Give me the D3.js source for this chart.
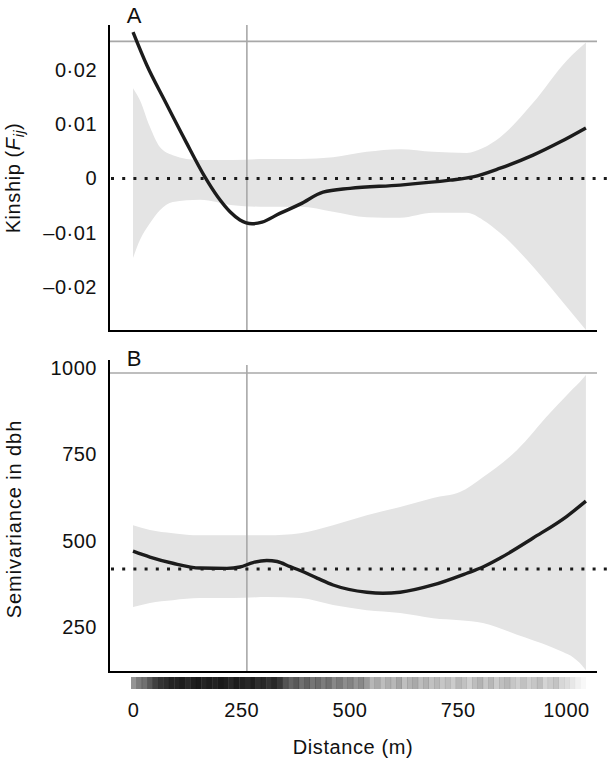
<!DOCTYPE html>
<html>
<head>
<meta charset="utf-8">
<script src="https://cdn.jsdelivr.net/npm/d3@7"></script>
<style>
  html, body { margin: 0; padding: 0; background: #fff; }
  svg { display: block; font-family: "Liberation Sans", Arial, Helvetica, sans-serif; }
</style>
</head>
<body>
<svg id="chart" width="609" height="761"></svg>
<script>
// ---------- DATA ----------
// Panel A: kinship vs distance
const aMeanDist = [0, 32, 74, 120, 166, 196, 224, 247, 275, 298, 339, 370, 386, 439, 501, 617, 732, 785, 848, 924, 986, 1046];
const aMean     = [0.0269, 0.0208, 0.0142, 0.0071, 0.0003, -0.0034, -0.0061, -0.0076, -0.0083, -0.0080, -0.0064, -0.0053, -0.0047, -0.0025, -0.0018, -0.0012, -0.0003, 0.0003, 0.0019, 0.0043, 0.0067, 0.0093];
const aBandDist = [0, 16, 39, 62, 92, 155, 231, 309, 386, 462, 540, 617, 693, 771, 808, 848, 924, 1002, 1046];
const aUpper    = [0.0166, 0.0144, 0.0095, 0.0058, 0.0043, 0.0034, 0.0034, 0.0036, 0.0036, 0.0039, 0.0049, 0.0054, 0.0049, 0.0047, 0.0056, 0.0076, 0.0139, 0.0217, 0.0250];
const aLower    = [-0.0146, -0.0113, -0.0082, -0.0058, -0.0043, -0.0039, -0.0049, -0.0052, -0.0052, -0.0061, -0.0071, -0.0072, -0.0063, -0.0063, -0.0076, -0.0100, -0.0162, -0.0236, -0.0278];
const aNull = 0;          // dotted reference
const aObsTop = 0.0252;   // grey horizontal line
const aTicks = [-0.02, -0.01, 0, 0.01, 0.02];
const aTickLabels = ["\u20130\u00b702", "\u20130\u00b701", "0", "0\u00b701", "0\u00b702"];

// Panel B: semivariance in dbh vs distance
const bMeanDist = [0, 39, 92, 155, 217, 247, 277, 309, 333, 363, 386, 425, 462, 540, 577, 617, 693, 771, 808, 848, 924, 1002, 1046];
const bMean     = [470, 453, 435, 421, 420, 424, 437, 443, 440, 425, 414, 392, 372, 351, 348, 351, 372, 406, 424, 450, 508, 571, 615];
const bBandDist = [0, 39, 92, 155, 231, 309, 386, 462, 540, 617, 693, 755, 808, 887, 963, 993, 1016, 1032, 1046];
const bUpper    = [545, 531, 522, 516, 516, 516, 522, 545, 574, 598, 624, 641, 684, 763, 870, 910, 940, 960, 980];
const bLower    = [308, 320, 328, 334, 334, 337, 334, 314, 299, 291, 276, 270, 262, 228, 194, 178, 163, 146, 125];
const bNull = 418;
const bObsTop = 986;
const bTicks = [250, 500, 750, 1000];
const bTickLabels = ["250", "500", "750", "1000"];

// shared
const vlineDist = 263;
const xTicks = [0, 250, 500, 750, 1000];
const xTickLabels = ["0", "250", "500", "750", "1000"];
// distance strip: relative pair density in consecutive 12.5 m bins starting at 0 m
const stripBinWidth = 12.5;
const stripDensity = [
  0.45, 0.55, 0.60, 0.70,
  0.80, 0.85, 0.88, 0.92,
  0.92, 0.95, 0.90, 0.94, 0.96, 0.92, 0.95, 0.93, 0.96, 0.94, 0.90, 0.95, 0.93, 0.90, 0.94, 0.88, 0.90, 0.86, 0.90, 0.84,
  0.72, 0.65, 0.70, 0.60, 0.66, 0.58, 0.62, 0.55, 0.60, 0.50, 0.56, 0.48,
  0.52, 0.45, 0.50, 0.42,
  0.30, 0.36, 0.28, 0.34, 0.30, 0.38, 0.27, 0.32, 0.36, 0.28, 0.33, 0.26,
  0.30, 0.24, 0.28, 0.22, 0.30, 0.26, 0.20, 0.28, 0.32, 0.24, 0.30, 0.22, 0.27, 0.30, 0.24, 0.20,
  0.26, 0.20, 0.24, 0.28, 0.18, 0.22, 0.25, 0.17,
  0.14, 0.10, 0.06, 0.03
];

// ---------- LAYOUT ----------
const svg = d3.select("#chart");
const axisX = 109, axisRight = 597;
const x = d3.scaleLinear().domain([0, 1000]).range([133, 566]);

const panels = [
  { label: "A", top: 25, bottom: 331, vTop: 25, labelY: 23, domain: [-0.0280, 0.0282],
    meanDist: aMeanDist, mean: aMean, bandDist: aBandDist, upper: aUpper, lower: aLower,
    nullV: aNull, obsTop: aObsTop, ticks: aTicks, tickLabels: aTickLabels },
  { label: "B", top: 360, bottom: 672, vTop: 365, labelY: 366, domain: [120, 1023.6],
    meanDist: bMeanDist, mean: bMean, bandDist: bBandDist, upper: bUpper, lower: bLower,
    nullV: bNull, obsTop: bObsTop, ticks: bTicks, tickLabels: bTickLabels }
];

const tickFont = 20, tickSpacing = 0.5;

panels.forEach(p => {
  const y = d3.scaleLinear().domain(p.domain).range([p.bottom, p.top]);
  const g = svg.append("g");

  // band
  const band = p.bandDist.map((d, i) => ({ d, lo: p.lower[i], hi: p.upper[i] }));
  g.append("path")
    .datum(band)
    .attr("fill", "#e4e4e4")
    .attr("d", d3.area().curve(d3.curveMonotoneX)
      .x(d => x(d.d)).y0(d => y(d.lo)).y1(d => y(d.hi)));

  // grey reference lines
  g.append("line")
    .attr("x1", axisX).attr("x2", axisRight)
    .attr("y1", y(p.obsTop)).attr("y2", y(p.obsTop))
    .attr("stroke", "#a8a8a8").attr("stroke-width", 1.6);
  g.append("line")
    .attr("x1", x(vlineDist)).attr("x2", x(vlineDist))
    .attr("y1", p.vTop).attr("y2", p.bottom)
    .attr("stroke", "#a8a8a8").attr("stroke-width", 1.6);

  // dotted null line
  g.append("line")
    .attr("x1", axisX + 2).attr("x2", 608)
    .attr("y1", y(p.nullV)).attr("y2", y(p.nullV))
    .attr("stroke", "#1a1a1a").attr("stroke-width", 3)
    .attr("stroke-dasharray", "3,8.2");

  // mean curve
  const mean = p.meanDist.map((d, i) => ({ d, v: p.mean[i] }));
  g.append("path")
    .datum(mean)
    .attr("fill", "none")
    .attr("stroke", "#1c1c1c")
    .attr("stroke-width", 3.4)
    .attr("stroke-linejoin", "round")
    .attr("d", d3.line().curve(d3.curveMonotoneX)
      .x(d => x(d.d)).y(d => y(d.v)));

  // axes lines
  g.append("line")
    .attr("x1", axisX).attr("x2", axisX)
    .attr("y1", p.top).attr("y2", p.bottom + 1)
    .attr("stroke", "#000").attr("stroke-width", 2);
  g.append("line")
    .attr("x1", axisX - 1).attr("x2", axisRight)
    .attr("y1", p.bottom).attr("y2", p.bottom)
    .attr("stroke", "#000").attr("stroke-width", 2);

  // y tick labels via axis
  const yAxis = d3.axisLeft(y).tickValues(p.ticks)
    .tickFormat((d, i) => p.tickLabels[i]).tickSize(0).tickPadding(12);
  const ya = g.append("g").attr("transform", `translate(${axisX},0)`).call(yAxis);
  ya.select(".domain").remove();
  ya.selectAll("text").attr("font-size", tickFont).attr("letter-spacing", tickSpacing)
    .attr("fill", "#111").style("font-family", "'Liberation Sans', Arial, sans-serif");

  // panel letter
  g.append("text").attr("x", 134).attr("y", p.labelY)
    .attr("text-anchor", "middle").attr("font-size", 22).attr("fill", "#111")
    .text(p.label);
});

// y titles
const tA = svg.append("text")
  .attr("transform", "translate(20,178) rotate(-90)")
  .attr("text-anchor", "middle").attr("font-size", 20).attr("letter-spacing", 0.6).attr("fill", "#111");
tA.append("tspan").text("Kinship (");
tA.append("tspan").attr("font-style", "italic").text("F");
tA.append("tspan").attr("font-style", "italic").attr("font-size", 14).attr("dy", 4).text("ij");
tA.append("tspan").attr("dy", -4).text(")");

svg.append("text")
  .attr("transform", "translate(21,519) rotate(-90)")
  .attr("text-anchor", "middle").attr("font-size", 20).attr("letter-spacing", 0.9).attr("fill", "#111")
  .text("Semivariance in dbh");

// distance strip
svg.append("g").selectAll("rect")
  .data(stripDensity.map((a, i) => ({ d: i * stripBinWidth, a })))
  .join("rect")
  .attr("x", d => x(d.d) - 2)
  .attr("width", d => x(d.d + stripBinWidth) - x(d.d) + 0.3)
  .attr("y", 677).attr("height", 12)
  .attr("fill", "#111").attr("fill-opacity", d => d.a);

// x axis labels
const xAxis = d3.axisBottom(x).tickValues(xTicks)
  .tickFormat((d, i) => xTickLabels[i]).tickSize(0).tickPadding(31);
const xa = svg.append("g").attr("transform", "translate(0,672)").call(xAxis);
xa.select(".domain").remove();
xa.selectAll("text").attr("font-size", tickFont).attr("letter-spacing", tickSpacing)
  .attr("fill", "#111").style("font-family", "'Liberation Sans', Arial, sans-serif");

svg.append("text").attr("x", 353).attr("y", 754)
  .attr("text-anchor", "middle").attr("font-size", 20).attr("letter-spacing", 0.6).attr("fill", "#111")
  .text("Distance (m)");
</script>
</body>
</html>
